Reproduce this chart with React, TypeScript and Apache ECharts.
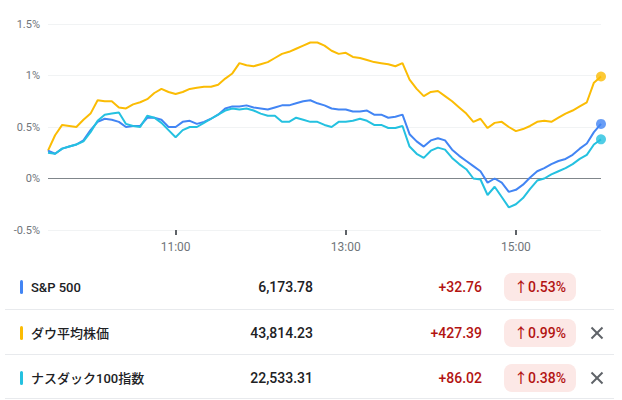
import React, { useEffect, useRef } from "react";
import * as echarts from "echarts";

// minutes since midnight, 5-minute grid from 9:30 to 16:00
const times: number[] = Array.from({ length: 79 }, (_, i) => 570 + i * 5);

const spValues = [
  0.27, 0.24, 0.29, 0.31, 0.33, 0.37, 0.47, 0.55, 0.58, 0.57,
  0.55, 0.50, 0.51, 0.51, 0.59, 0.59, 0.57, 0.50, 0.50, 0.55,
  0.56, 0.53, 0.55, 0.58, 0.62, 0.68, 0.70, 0.70, 0.71, 0.69,
  0.68, 0.67, 0.69, 0.71, 0.71, 0.73, 0.75, 0.76, 0.73, 0.71,
  0.68, 0.67, 0.67, 0.65, 0.65, 0.66, 0.62, 0.62, 0.59, 0.60,
  0.62, 0.43, 0.36, 0.31, 0.37, 0.39, 0.37, 0.28, 0.22, 0.17,
  0.12, 0.07, -0.04, 0.00, -0.04, -0.13, -0.11, -0.06, 0.01, 0.07,
  0.10, 0.14, 0.17, 0.19, 0.23, 0.29, 0.34, 0.45, 0.53,
];

const dowValues = [
  0.27, 0.42, 0.52, 0.51, 0.50, 0.57, 0.63, 0.76, 0.75, 0.75,
  0.69, 0.68, 0.72, 0.74, 0.77, 0.83, 0.87, 0.84, 0.82, 0.84,
  0.87, 0.88, 0.89, 0.89, 0.91, 0.97, 1.02, 1.12, 1.10, 1.09,
  1.11, 1.13, 1.17, 1.21, 1.23, 1.26, 1.29, 1.32, 1.32, 1.29,
  1.24, 1.21, 1.22, 1.18, 1.17, 1.15, 1.13, 1.12, 1.11, 1.09,
  1.12, 0.96, 0.87, 0.80, 0.84, 0.85, 0.80, 0.75, 0.69, 0.63,
  0.55, 0.58, 0.49, 0.54, 0.55, 0.50, 0.46, 0.48, 0.51, 0.55,
  0.56, 0.55, 0.59, 0.63, 0.66, 0.70, 0.74, 0.93, 0.99,
];

const ndxValues = [
  0.25, 0.24, 0.29, 0.31, 0.33, 0.36, 0.45, 0.56, 0.62, 0.63,
  0.64, 0.53, 0.51, 0.50, 0.61, 0.59, 0.54, 0.47, 0.40, 0.47,
  0.50, 0.50, 0.54, 0.58, 0.62, 0.66, 0.68, 0.67, 0.68, 0.66,
  0.63, 0.61, 0.61, 0.55, 0.55, 0.59, 0.57, 0.55, 0.55, 0.52,
  0.50, 0.55, 0.55, 0.56, 0.58, 0.56, 0.52, 0.52, 0.49, 0.49,
  0.51, 0.31, 0.24, 0.20, 0.27, 0.30, 0.28, 0.20, 0.14, 0.09,
  0.00, -0.01, -0.16, -0.08, -0.18, -0.28, -0.25, -0.19, -0.10, -0.02,
  0.00, 0.04, 0.07, 0.10, 0.14, 0.19, 0.23, 0.33, 0.38,
];

const seriesNames = ["S&P 500", "ダウ平均株価", "ナスダック100指数"];
const seriesColors = ["#4285f4", "#fbbc04", "#24c1e0"];
const priceLabels = ["6,173.78", "43,814.23", "22,533.31"];
const changeLabels = ["+32.76", "+427.39", "+86.02"];
const pctLabels = ["↑0.53%", "↑0.99%", "↑0.38%"];
const removable = [false, true, true];

const xTickValues = [660, 780, 900];
const yTicks = { min: -0.5, max: 1.5, interval: 0.5 };

const FONT = "Roboto, 'Noto Sans CJK JP', sans-serif";

function fmtTime(v: number): string {
  const h = Math.floor(v / 60);
  const m = v % 60;
  return `${h}:${m < 10 ? "0" + m : m}`;
}

export default function App() {
  const ref = useRef<HTMLDivElement>(null);

  useEffect(() => {
    document.body.style.margin = "0";
    if (!ref.current) return;
    const chart = echarts.init(ref.current, undefined, { renderer: "svg" });

    const allValues = [spValues, dowValues, ndxValues];
    const order = [1, 0, 2];

    const lineSeries = order.map((k) => ({
      type: "line",
      name: seriesNames[k],
      data: times.map((t, i) => [t, allValues[k][i]]),
      showSymbol: false,
      symbol: "none",
      lineStyle: { width: 2, color: seriesColors[k] },
      itemStyle: { color: seriesColors[k] },
      z: 3,
    }));

    const dotSeries = {
      type: "scatter",
      symbol: "circle",
      symbolSize: 10,
      clip: false,
      z: 5,
      data: allValues.map((vals, k) => ({
        value: [times[times.length - 1], vals[vals.length - 1]],
        itemStyle: { color: seriesColors[k] },
      })),
    };

    const rowY = [287, 333, 378];
    const sepY = [309, 354, 398];
    const graphics: any[] = [];
    rowY.forEach((y, k) => {
      graphics.push({
        type: "rect",
        shape: { x: 20, y: y - 7, width: 3, height: 14, r: 1.5 },
        style: { fill: seriesColors[k] },
      });
      graphics.push({
        type: "text",
        x: 31,
        y,
        style: {
          text: seriesNames[k],
          fill: "#202124",
          font: `500 13px ${FONT}`,
          textAlign: "left",
          textVerticalAlign: "middle",
        },
      });
      graphics.push({
        type: "text",
        x: 313,
        y,
        style: {
          text: priceLabels[k],
          fill: "#202124",
          font: `500 14px ${FONT}`,
          textAlign: "right",
          textVerticalAlign: "middle",
        },
      });
      graphics.push({
        type: "text",
        x: 482,
        y,
        style: {
          text: changeLabels[k],
          fill: "#b31412",
          font: `500 14px ${FONT}`,
          textAlign: "right",
          textVerticalAlign: "middle",
        },
      });
      graphics.push({
        type: "rect",
        shape: { x: 504, y: y - 14, width: 72, height: 28, r: 8 },
        style: { fill: "#fce8e6" },
      });
      graphics.push({
        type: "text",
        x: 540,
        y,
        style: {
          text: pctLabels[k],
          fill: "#b31412",
          font: `500 14px ${FONT}`,
          textAlign: "center",
          textVerticalAlign: "middle",
        },
      });
      if (removable[k]) {
        graphics.push({
          type: "line",
          shape: { x1: 591.5, y1: y - 5.5, x2: 602.5, y2: y + 5.5 },
          style: { stroke: "#5f6368", lineWidth: 2 },
        });
        graphics.push({
          type: "line",
          shape: { x1: 602.5, y1: y - 5.5, x2: 591.5, y2: y + 5.5 },
          style: { stroke: "#5f6368", lineWidth: 2 },
        });
      }
      graphics.push({
        type: "line",
        shape: { x1: 5, y1: sepY[k] + 0.5, x2: 614, y2: sepY[k] + 0.5 },
        style: { stroke: "#e8eaed", lineWidth: 1 },
      });
    });

    chart.setOption({
      animation: false,
      grid: { left: 48, right: 21, top: 24, bottom: 170, containLabel: false },
      xAxis: {
        type: "value",
        min: 570,
        max: 960,
        axisLine: { show: true, onZero: false, lineStyle: { color: "rgba(0,0,0,0)" } },
        splitLine: { show: false },
        axisTick: {
          show: true,
          customValues: xTickValues,
          length: 5,
          lineStyle: { color: "#5f6368", width: 2 },
        },
        axisLabel: {
          customValues: xTickValues,
          formatter: (v: number) => fmtTime(v),
          color: "#70757a",
          fontSize: 12,
          fontFamily: FONT,
          margin: 11,
        },
      },
      yAxis: {
        type: "value",
        min: yTicks.min,
        max: yTicks.max,
        interval: yTicks.interval,
        axisLine: { show: false },
        axisTick: { show: false },
        axisLabel: {
          formatter: (v: number) => `${Math.round(v * 10) / 10}%`,
          color: "#70757a",
          fontSize: 11,
          fontFamily: FONT,
          margin: 8,
        },
        splitLine: {
          show: true,
          lineStyle: {
            color: ["#f1f3f4", "#80868b", "#f1f3f4", "#f1f3f4", "#f1f3f4"],
            width: 1,
          },
        },
      },
      series: [...lineSeries, dotSeries],
      graphic: graphics,
    });

    return () => chart.dispose();
  }, []);

  return <div ref={ref} style={{ width: 622, height: 400 }} />;
}
